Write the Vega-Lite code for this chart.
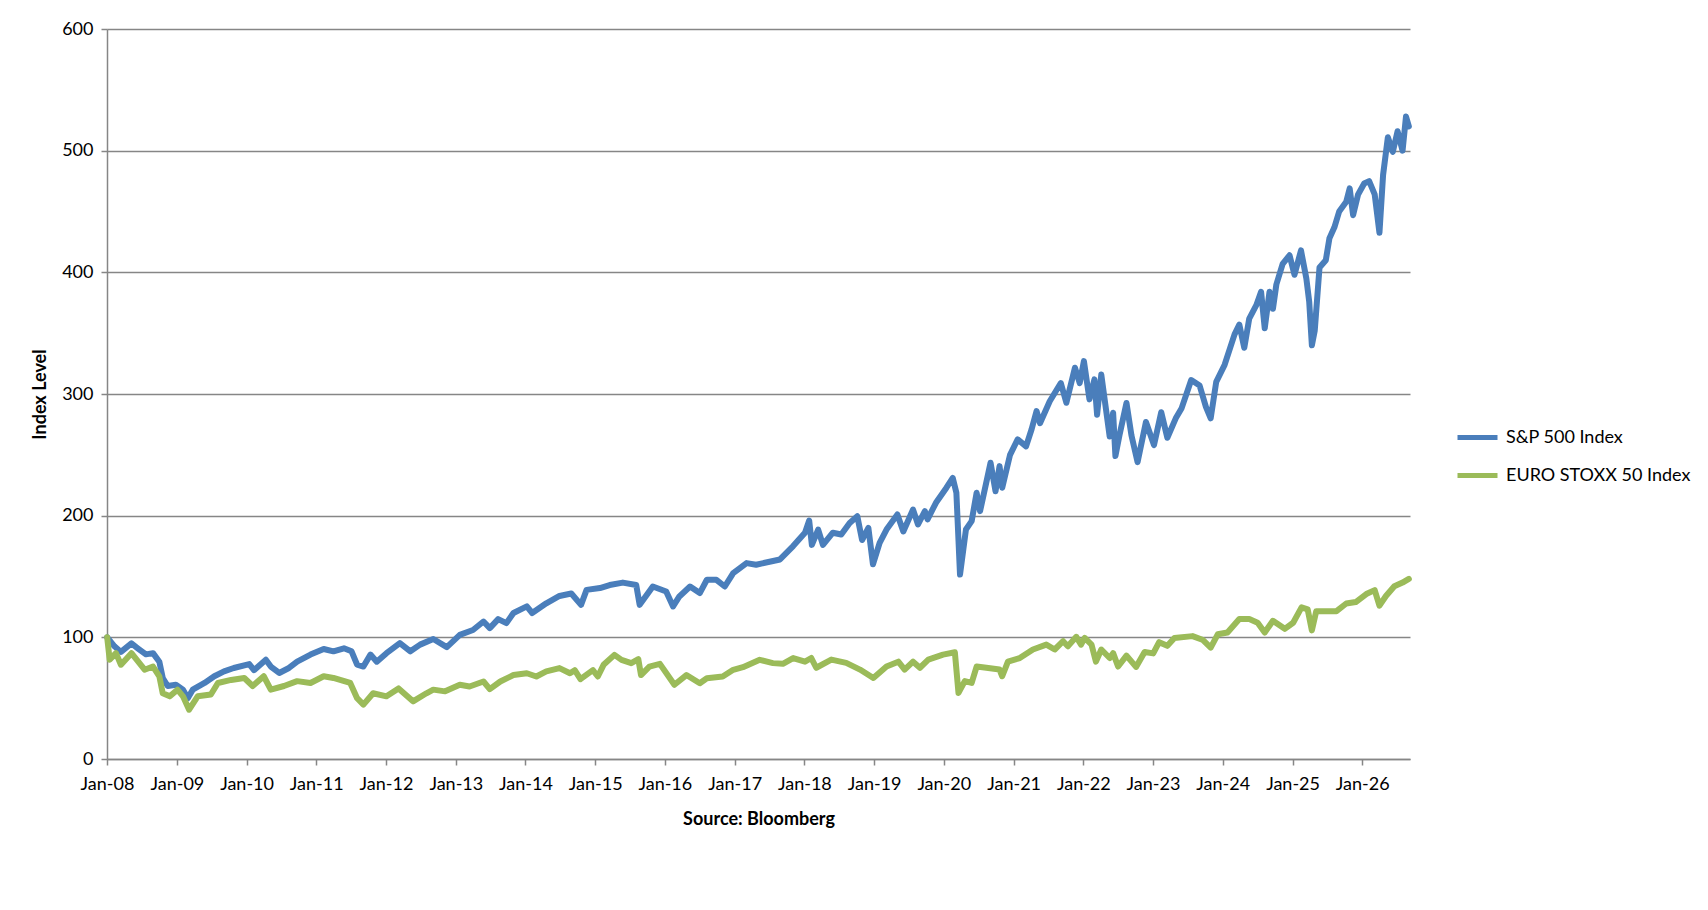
{
  "$schema": "https://vega.github.io/schema/vega-lite/v6.json",
  "description": "S&P 500 vs EURO STOXX 50, rebased to 100 at Jan 2008.",
  "autosize": {"type": "none"},
  "width": 1303,
  "height": 730,
  "padding": {"left": 107, "top": 29, "right": 298, "bottom": 151},
  "background": "white",
  "config": {
    "font": "Lato",
    "view": {"stroke": null},
    "axis": {
      "labelFont": "Lato",
      "labelFontSize": 18,
      "labelColor": "black",
      "titleFont": "Lato",
      "titleFontSize": 18,
      "titleFontWeight": "bold",
      "titleColor": "black",
      "domainColor": "#868686",
      "domainWidth": 1.5,
      "tickColor": "#868686",
      "tickWidth": 1.5,
      "tickSize": 6,
      "gridColor": "#868686",
      "gridWidth": 1.5
    },
    "legend": {
      "labelFont": "Lato",
      "labelFontSize": 18,
      "labelColor": "black",
      "labelLimit": 0
    }
  },
  "data": {
    "values": [
      {"date": "2008-01-02", "index": "S&P 500 Index", "level": 100},
      {"date": "2008-02-09", "index": "S&P 500 Index", "level": 92.6},
      {"date": "2008-03-14", "index": "S&P 500 Index", "level": 88},
      {"date": "2008-05-08", "index": "S&P 500 Index", "level": 95},
      {"date": "2008-06-10", "index": "S&P 500 Index", "level": 91},
      {"date": "2008-07-23", "index": "S&P 500 Index", "level": 86},
      {"date": "2008-08-29", "index": "S&P 500 Index", "level": 87},
      {"date": "2008-10-01", "index": "S&P 500 Index", "level": 80},
      {"date": "2008-10-19", "index": "S&P 500 Index", "level": 66.6},
      {"date": "2008-11-14", "index": "S&P 500 Index", "level": 60},
      {"date": "2008-12-27", "index": "S&P 500 Index", "level": 61},
      {"date": "2009-02-02", "index": "S&P 500 Index", "level": 57},
      {"date": "2009-02-27", "index": "S&P 500 Index", "level": 50},
      {"date": "2009-03-25", "index": "S&P 500 Index", "level": 57},
      {"date": "2009-05-26", "index": "S&P 500 Index", "level": 62.5},
      {"date": "2009-07-16", "index": "S&P 500 Index", "level": 68},
      {"date": "2009-09-05", "index": "S&P 500 Index", "level": 72},
      {"date": "2009-10-26", "index": "S&P 500 Index", "level": 74.8},
      {"date": "2010-01-15", "index": "S&P 500 Index", "level": 78},
      {"date": "2010-02-09", "index": "S&P 500 Index", "level": 73},
      {"date": "2010-04-12", "index": "S&P 500 Index", "level": 81.6},
      {"date": "2010-05-08", "index": "S&P 500 Index", "level": 76},
      {"date": "2010-06-21", "index": "S&P 500 Index", "level": 70.7},
      {"date": "2010-08-11", "index": "S&P 500 Index", "level": 74.8},
      {"date": "2010-09-23", "index": "S&P 500 Index", "level": 80},
      {"date": "2010-12-02", "index": "S&P 500 Index", "level": 85.8},
      {"date": "2011-02-09", "index": "S&P 500 Index", "level": 90.4},
      {"date": "2011-04-01", "index": "S&P 500 Index", "level": 88.5},
      {"date": "2011-05-26", "index": "S&P 500 Index", "level": 91},
      {"date": "2011-07-05", "index": "S&P 500 Index", "level": 88.5},
      {"date": "2011-08-03", "index": "S&P 500 Index", "level": 77.5},
      {"date": "2011-09-05", "index": "S&P 500 Index", "level": 76},
      {"date": "2011-10-12", "index": "S&P 500 Index", "level": 85.8},
      {"date": "2011-11-14", "index": "S&P 500 Index", "level": 80},
      {"date": "2012-01-04", "index": "S&P 500 Index", "level": 87},
      {"date": "2012-03-14", "index": "S&P 500 Index", "level": 95.3},
      {"date": "2012-05-08", "index": "S&P 500 Index", "level": 88.5},
      {"date": "2012-06-28", "index": "S&P 500 Index", "level": 94},
      {"date": "2012-09-05", "index": "S&P 500 Index", "level": 98.6},
      {"date": "2012-11-15", "index": "S&P 500 Index", "level": 92},
      {"date": "2013-01-22", "index": "S&P 500 Index", "level": 102},
      {"date": "2013-04-01", "index": "S&P 500 Index", "level": 106},
      {"date": "2013-05-26", "index": "S&P 500 Index", "level": 113},
      {"date": "2013-06-28", "index": "S&P 500 Index", "level": 107.6},
      {"date": "2013-08-11", "index": "S&P 500 Index", "level": 115},
      {"date": "2013-09-23", "index": "S&P 500 Index", "level": 111.7},
      {"date": "2013-10-30", "index": "S&P 500 Index", "level": 120},
      {"date": "2014-01-08", "index": "S&P 500 Index", "level": 125.4},
      {"date": "2014-02-05", "index": "S&P 500 Index", "level": 120},
      {"date": "2014-04-20", "index": "S&P 500 Index", "level": 128},
      {"date": "2014-06-28", "index": "S&P 500 Index", "level": 134},
      {"date": "2014-08-29", "index": "S&P 500 Index", "level": 136},
      {"date": "2014-10-19", "index": "S&P 500 Index", "level": 126.7},
      {"date": "2014-11-17", "index": "S&P 500 Index", "level": 139},
      {"date": "2015-01-26", "index": "S&P 500 Index", "level": 140.5},
      {"date": "2015-03-18", "index": "S&P 500 Index", "level": 143},
      {"date": "2015-05-26", "index": "S&P 500 Index", "level": 145},
      {"date": "2015-08-04", "index": "S&P 500 Index", "level": 143},
      {"date": "2015-08-22", "index": "S&P 500 Index", "level": 126.7},
      {"date": "2015-10-30", "index": "S&P 500 Index", "level": 141.8},
      {"date": "2016-01-08", "index": "S&P 500 Index", "level": 137.7},
      {"date": "2016-02-13", "index": "S&P 500 Index", "level": 125.4},
      {"date": "2016-03-17", "index": "S&P 500 Index", "level": 133.6},
      {"date": "2016-05-12", "index": "S&P 500 Index", "level": 141.8},
      {"date": "2016-07-02", "index": "S&P 500 Index", "level": 136.4},
      {"date": "2016-08-08", "index": "S&P 500 Index", "level": 147.3},
      {"date": "2016-09-27", "index": "S&P 500 Index", "level": 147.3},
      {"date": "2016-11-10", "index": "S&P 500 Index", "level": 141.8},
      {"date": "2016-12-24", "index": "S&P 500 Index", "level": 152.8},
      {"date": "2017-03-04", "index": "S&P 500 Index", "level": 161},
      {"date": "2017-04-23", "index": "S&P 500 Index", "level": 159.7},
      {"date": "2017-08-26", "index": "S&P 500 Index", "level": 164},
      {"date": "2017-11-03", "index": "S&P 500 Index", "level": 175},
      {"date": "2018-01-04", "index": "S&P 500 Index", "level": 186},
      {"date": "2018-01-26", "index": "S&P 500 Index", "level": 196},
      {"date": "2018-02-09", "index": "S&P 500 Index", "level": 176},
      {"date": "2018-03-14", "index": "S&P 500 Index", "level": 188.6},
      {"date": "2018-04-08", "index": "S&P 500 Index", "level": 176},
      {"date": "2018-05-30", "index": "S&P 500 Index", "level": 186},
      {"date": "2018-07-13", "index": "S&P 500 Index", "level": 184.5},
      {"date": "2018-08-26", "index": "S&P 500 Index", "level": 194},
      {"date": "2018-10-05", "index": "S&P 500 Index", "level": 199.6},
      {"date": "2018-10-30", "index": "S&P 500 Index", "level": 180},
      {"date": "2018-12-02", "index": "S&P 500 Index", "level": 190},
      {"date": "2018-12-26", "index": "S&P 500 Index", "level": 160},
      {"date": "2019-01-30", "index": "S&P 500 Index", "level": 177.7},
      {"date": "2019-03-07", "index": "S&P 500 Index", "level": 188.6},
      {"date": "2019-05-03", "index": "S&P 500 Index", "level": 201},
      {"date": "2019-06-03", "index": "S&P 500 Index", "level": 187},
      {"date": "2019-07-24", "index": "S&P 500 Index", "level": 205},
      {"date": "2019-08-19", "index": "S&P 500 Index", "level": 192.8},
      {"date": "2019-09-24", "index": "S&P 500 Index", "level": 203.7},
      {"date": "2019-10-08", "index": "S&P 500 Index", "level": 197},
      {"date": "2019-11-21", "index": "S&P 500 Index", "level": 210.6},
      {"date": "2020-01-15", "index": "S&P 500 Index", "level": 223},
      {"date": "2020-02-17", "index": "S&P 500 Index", "level": 231},
      {"date": "2020-03-07", "index": "S&P 500 Index", "level": 218.8},
      {"date": "2020-03-26", "index": "S&P 500 Index", "level": 151.6},
      {"date": "2020-04-26", "index": "S&P 500 Index", "level": 188.6},
      {"date": "2020-05-26", "index": "S&P 500 Index", "level": 195.5},
      {"date": "2020-06-21", "index": "S&P 500 Index", "level": 218.8},
      {"date": "2020-07-09", "index": "S&P 500 Index", "level": 203.7},
      {"date": "2020-09-02", "index": "S&P 500 Index", "level": 243.5},
      {"date": "2020-09-28", "index": "S&P 500 Index", "level": 220},
      {"date": "2020-10-19", "index": "S&P 500 Index", "level": 240.7},
      {"date": "2020-11-02", "index": "S&P 500 Index", "level": 223},
      {"date": "2020-12-13", "index": "S&P 500 Index", "level": 250},
      {"date": "2021-01-22", "index": "S&P 500 Index", "level": 262.7},
      {"date": "2021-03-07", "index": "S&P 500 Index", "level": 257},
      {"date": "2021-04-05", "index": "S&P 500 Index", "level": 271},
      {"date": "2021-05-01", "index": "S&P 500 Index", "level": 286},
      {"date": "2021-05-19", "index": "S&P 500 Index", "level": 276},
      {"date": "2021-07-09", "index": "S&P 500 Index", "level": 294},
      {"date": "2021-09-05", "index": "S&P 500 Index", "level": 309},
      {"date": "2021-10-04", "index": "S&P 500 Index", "level": 292.8},
      {"date": "2021-11-18", "index": "S&P 500 Index", "level": 321.6},
      {"date": "2021-12-13", "index": "S&P 500 Index", "level": 309},
      {"date": "2022-01-04", "index": "S&P 500 Index", "level": 327},
      {"date": "2022-02-02", "index": "S&P 500 Index", "level": 295.6},
      {"date": "2022-02-28", "index": "S&P 500 Index", "level": 312},
      {"date": "2022-03-14", "index": "S&P 500 Index", "level": 283},
      {"date": "2022-04-05", "index": "S&P 500 Index", "level": 316},
      {"date": "2022-05-19", "index": "S&P 500 Index", "level": 265},
      {"date": "2022-06-06", "index": "S&P 500 Index", "level": 284.6},
      {"date": "2022-06-18", "index": "S&P 500 Index", "level": 249},
      {"date": "2022-07-09", "index": "S&P 500 Index", "level": 266},
      {"date": "2022-08-15", "index": "S&P 500 Index", "level": 292.6},
      {"date": "2022-09-10", "index": "S&P 500 Index", "level": 266},
      {"date": "2022-10-12", "index": "S&P 500 Index", "level": 244},
      {"date": "2022-11-25", "index": "S&P 500 Index", "level": 277},
      {"date": "2023-01-06", "index": "S&P 500 Index", "level": 258},
      {"date": "2023-02-13", "index": "S&P 500 Index", "level": 285},
      {"date": "2023-03-17", "index": "S&P 500 Index", "level": 264},
      {"date": "2023-04-30", "index": "S&P 500 Index", "level": 280},
      {"date": "2023-05-30", "index": "S&P 500 Index", "level": 288},
      {"date": "2023-07-20", "index": "S&P 500 Index", "level": 311.5},
      {"date": "2023-09-02", "index": "S&P 500 Index", "level": 307},
      {"date": "2023-10-05", "index": "S&P 500 Index", "level": 289.5},
      {"date": "2023-10-30", "index": "S&P 500 Index", "level": 280},
      {"date": "2023-11-28", "index": "S&P 500 Index", "level": 310},
      {"date": "2024-01-11", "index": "S&P 500 Index", "level": 324},
      {"date": "2024-03-03", "index": "S&P 500 Index", "level": 349},
      {"date": "2024-03-28", "index": "S&P 500 Index", "level": 357},
      {"date": "2024-04-23", "index": "S&P 500 Index", "level": 338},
      {"date": "2024-05-19", "index": "S&P 500 Index", "level": 362},
      {"date": "2024-06-25", "index": "S&P 500 Index", "level": 373},
      {"date": "2024-07-20", "index": "S&P 500 Index", "level": 384},
      {"date": "2024-08-08", "index": "S&P 500 Index", "level": 354},
      {"date": "2024-09-02", "index": "S&P 500 Index", "level": 384},
      {"date": "2024-09-20", "index": "S&P 500 Index", "level": 370},
      {"date": "2024-10-08", "index": "S&P 500 Index", "level": 390},
      {"date": "2024-11-10", "index": "S&P 500 Index", "level": 407},
      {"date": "2024-12-16", "index": "S&P 500 Index", "level": 414},
      {"date": "2025-01-11", "index": "S&P 500 Index", "level": 398},
      {"date": "2025-02-14", "index": "S&P 500 Index", "level": 418},
      {"date": "2025-03-14", "index": "S&P 500 Index", "level": 395},
      {"date": "2025-03-29", "index": "S&P 500 Index", "level": 376},
      {"date": "2025-04-12", "index": "S&P 500 Index", "level": 340},
      {"date": "2025-04-27", "index": "S&P 500 Index", "level": 352},
      {"date": "2025-05-22", "index": "S&P 500 Index", "level": 404},
      {"date": "2025-06-24", "index": "S&P 500 Index", "level": 410},
      {"date": "2025-07-13", "index": "S&P 500 Index", "level": 428},
      {"date": "2025-08-08", "index": "S&P 500 Index", "level": 437},
      {"date": "2025-09-02", "index": "S&P 500 Index", "level": 450},
      {"date": "2025-10-09", "index": "S&P 500 Index", "level": 458},
      {"date": "2025-10-27", "index": "S&P 500 Index", "level": 469},
      {"date": "2025-11-14", "index": "S&P 500 Index", "level": 447},
      {"date": "2025-12-10", "index": "S&P 500 Index", "level": 464},
      {"date": "2026-01-11", "index": "S&P 500 Index", "level": 473},
      {"date": "2026-02-06", "index": "S&P 500 Index", "level": 475},
      {"date": "2026-03-07", "index": "S&P 500 Index", "level": 464},
      {"date": "2026-04-01", "index": "S&P 500 Index", "level": 432.5},
      {"date": "2026-04-20", "index": "S&P 500 Index", "level": 480},
      {"date": "2026-05-15", "index": "S&P 500 Index", "level": 511},
      {"date": "2026-06-10", "index": "S&P 500 Index", "level": 499},
      {"date": "2026-07-05", "index": "S&P 500 Index", "level": 516},
      {"date": "2026-07-31", "index": "S&P 500 Index", "level": 500},
      {"date": "2026-08-18", "index": "S&P 500 Index", "level": 528},
      {"date": "2026-09-02", "index": "S&P 500 Index", "level": 520},

      {"date": "2008-01-02", "index": "EURO STOXX 50 Index", "level": 100},
      {"date": "2008-01-15", "index": "EURO STOXX 50 Index", "level": 81.6},
      {"date": "2008-02-17", "index": "EURO STOXX 50 Index", "level": 87},
      {"date": "2008-03-14", "index": "EURO STOXX 50 Index", "level": 77.5},
      {"date": "2008-05-08", "index": "EURO STOXX 50 Index", "level": 87},
      {"date": "2008-07-16", "index": "EURO STOXX 50 Index", "level": 73.4},
      {"date": "2008-08-29", "index": "EURO STOXX 50 Index", "level": 76},
      {"date": "2008-10-01", "index": "EURO STOXX 50 Index", "level": 68},
      {"date": "2008-10-19", "index": "EURO STOXX 50 Index", "level": 54},
      {"date": "2008-11-25", "index": "EURO STOXX 50 Index", "level": 51.5},
      {"date": "2009-01-04", "index": "EURO STOXX 50 Index", "level": 57},
      {"date": "2009-02-02", "index": "EURO STOXX 50 Index", "level": 51.5},
      {"date": "2009-03-06", "index": "EURO STOXX 50 Index", "level": 40.5},
      {"date": "2009-04-20", "index": "EURO STOXX 50 Index", "level": 51.5},
      {"date": "2009-06-28", "index": "EURO STOXX 50 Index", "level": 53},
      {"date": "2009-08-04", "index": "EURO STOXX 50 Index", "level": 62.5},
      {"date": "2009-10-12", "index": "EURO STOXX 50 Index", "level": 65},
      {"date": "2009-12-20", "index": "EURO STOXX 50 Index", "level": 66.6},
      {"date": "2010-02-02", "index": "EURO STOXX 50 Index", "level": 60},
      {"date": "2010-04-01", "index": "EURO STOXX 50 Index", "level": 68},
      {"date": "2010-05-08", "index": "EURO STOXX 50 Index", "level": 57},
      {"date": "2010-07-16", "index": "EURO STOXX 50 Index", "level": 60},
      {"date": "2010-09-23", "index": "EURO STOXX 50 Index", "level": 64},
      {"date": "2010-12-02", "index": "EURO STOXX 50 Index", "level": 62.5},
      {"date": "2011-02-09", "index": "EURO STOXX 50 Index", "level": 68},
      {"date": "2011-04-01", "index": "EURO STOXX 50 Index", "level": 66.6},
      {"date": "2011-06-28", "index": "EURO STOXX 50 Index", "level": 62.5},
      {"date": "2011-08-03", "index": "EURO STOXX 50 Index", "level": 50},
      {"date": "2011-09-05", "index": "EURO STOXX 50 Index", "level": 44.7},
      {"date": "2011-10-26", "index": "EURO STOXX 50 Index", "level": 54},
      {"date": "2012-01-04", "index": "EURO STOXX 50 Index", "level": 51.5},
      {"date": "2012-03-07", "index": "EURO STOXX 50 Index", "level": 58},
      {"date": "2012-05-22", "index": "EURO STOXX 50 Index", "level": 47.4},
      {"date": "2012-07-31", "index": "EURO STOXX 50 Index", "level": 54},
      {"date": "2012-09-05", "index": "EURO STOXX 50 Index", "level": 57},
      {"date": "2012-11-06", "index": "EURO STOXX 50 Index", "level": 55.6},
      {"date": "2013-01-22", "index": "EURO STOXX 50 Index", "level": 61},
      {"date": "2013-03-14", "index": "EURO STOXX 50 Index", "level": 59.6},
      {"date": "2013-05-26", "index": "EURO STOXX 50 Index", "level": 63.7},
      {"date": "2013-06-28", "index": "EURO STOXX 50 Index", "level": 57.4},
      {"date": "2013-08-22", "index": "EURO STOXX 50 Index", "level": 63.7},
      {"date": "2013-10-30", "index": "EURO STOXX 50 Index", "level": 69},
      {"date": "2014-01-08", "index": "EURO STOXX 50 Index", "level": 70.5},
      {"date": "2014-02-27", "index": "EURO STOXX 50 Index", "level": 67.8},
      {"date": "2014-04-20", "index": "EURO STOXX 50 Index", "level": 72},
      {"date": "2014-06-28", "index": "EURO STOXX 50 Index", "level": 74.7},
      {"date": "2014-08-22", "index": "EURO STOXX 50 Index", "level": 70.5},
      {"date": "2014-09-16", "index": "EURO STOXX 50 Index", "level": 73},
      {"date": "2014-10-16", "index": "EURO STOXX 50 Index", "level": 65.6},
      {"date": "2014-12-20", "index": "EURO STOXX 50 Index", "level": 73},
      {"date": "2015-01-15", "index": "EURO STOXX 50 Index", "level": 67.8},
      {"date": "2015-02-14", "index": "EURO STOXX 50 Index", "level": 77.4},
      {"date": "2015-04-12", "index": "EURO STOXX 50 Index", "level": 85.6},
      {"date": "2015-05-19", "index": "EURO STOXX 50 Index", "level": 81.5},
      {"date": "2015-07-09", "index": "EURO STOXX 50 Index", "level": 78.8},
      {"date": "2015-08-15", "index": "EURO STOXX 50 Index", "level": 82},
      {"date": "2015-08-29", "index": "EURO STOXX 50 Index", "level": 69},
      {"date": "2015-10-12", "index": "EURO STOXX 50 Index", "level": 76},
      {"date": "2015-12-06", "index": "EURO STOXX 50 Index", "level": 78.2},
      {"date": "2016-02-20", "index": "EURO STOXX 50 Index", "level": 61},
      {"date": "2016-04-23", "index": "EURO STOXX 50 Index", "level": 69},
      {"date": "2016-07-02", "index": "EURO STOXX 50 Index", "level": 62.3},
      {"date": "2016-08-08", "index": "EURO STOXX 50 Index", "level": 66.4},
      {"date": "2016-10-30", "index": "EURO STOXX 50 Index", "level": 67.8},
      {"date": "2016-12-24", "index": "EURO STOXX 50 Index", "level": 73.3},
      {"date": "2017-02-13", "index": "EURO STOXX 50 Index", "level": 75.5},
      {"date": "2017-05-12", "index": "EURO STOXX 50 Index", "level": 81.5},
      {"date": "2017-07-20", "index": "EURO STOXX 50 Index", "level": 78.8},
      {"date": "2017-09-10", "index": "EURO STOXX 50 Index", "level": 78.2},
      {"date": "2017-11-03", "index": "EURO STOXX 50 Index", "level": 83},
      {"date": "2018-01-04", "index": "EURO STOXX 50 Index", "level": 80},
      {"date": "2018-02-06", "index": "EURO STOXX 50 Index", "level": 83},
      {"date": "2018-03-04", "index": "EURO STOXX 50 Index", "level": 75},
      {"date": "2018-05-22", "index": "EURO STOXX 50 Index", "level": 81.7},
      {"date": "2018-08-08", "index": "EURO STOXX 50 Index", "level": 79},
      {"date": "2018-10-19", "index": "EURO STOXX 50 Index", "level": 73.5},
      {"date": "2018-12-28", "index": "EURO STOXX 50 Index", "level": 66.6},
      {"date": "2019-03-07", "index": "EURO STOXX 50 Index", "level": 76},
      {"date": "2019-05-08", "index": "EURO STOXX 50 Index", "level": 80},
      {"date": "2019-06-10", "index": "EURO STOXX 50 Index", "level": 73.5},
      {"date": "2019-07-24", "index": "EURO STOXX 50 Index", "level": 80},
      {"date": "2019-08-29", "index": "EURO STOXX 50 Index", "level": 75},
      {"date": "2019-10-12", "index": "EURO STOXX 50 Index", "level": 81.7},
      {"date": "2019-12-28", "index": "EURO STOXX 50 Index", "level": 85.8},
      {"date": "2020-02-28", "index": "EURO STOXX 50 Index", "level": 87.7},
      {"date": "2020-03-18", "index": "EURO STOXX 50 Index", "level": 54.3},
      {"date": "2020-04-20", "index": "EURO STOXX 50 Index", "level": 64},
      {"date": "2020-05-26", "index": "EURO STOXX 50 Index", "level": 62.5},
      {"date": "2020-06-21", "index": "EURO STOXX 50 Index", "level": 76},
      {"date": "2020-08-11", "index": "EURO STOXX 50 Index", "level": 75},
      {"date": "2020-10-19", "index": "EURO STOXX 50 Index", "level": 73.5},
      {"date": "2020-11-02", "index": "EURO STOXX 50 Index", "level": 68},
      {"date": "2020-12-02", "index": "EURO STOXX 50 Index", "level": 80},
      {"date": "2021-02-02", "index": "EURO STOXX 50 Index", "level": 83},
      {"date": "2021-04-12", "index": "EURO STOXX 50 Index", "level": 90},
      {"date": "2021-06-21", "index": "EURO STOXX 50 Index", "level": 94},
      {"date": "2021-08-04", "index": "EURO STOXX 50 Index", "level": 90},
      {"date": "2021-09-17", "index": "EURO STOXX 50 Index", "level": 96.8},
      {"date": "2021-10-12", "index": "EURO STOXX 50 Index", "level": 92.7},
      {"date": "2021-11-25", "index": "EURO STOXX 50 Index", "level": 100.4},
      {"date": "2021-12-20", "index": "EURO STOXX 50 Index", "level": 94},
      {"date": "2022-01-08", "index": "EURO STOXX 50 Index", "level": 99.5},
      {"date": "2022-02-13", "index": "EURO STOXX 50 Index", "level": 94},
      {"date": "2022-03-08", "index": "EURO STOXX 50 Index", "level": 80},
      {"date": "2022-04-05", "index": "EURO STOXX 50 Index", "level": 90},
      {"date": "2022-05-19", "index": "EURO STOXX 50 Index", "level": 83},
      {"date": "2022-06-06", "index": "EURO STOXX 50 Index", "level": 87},
      {"date": "2022-07-02", "index": "EURO STOXX 50 Index", "level": 76},
      {"date": "2022-08-15", "index": "EURO STOXX 50 Index", "level": 85},
      {"date": "2022-10-04", "index": "EURO STOXX 50 Index", "level": 75.7},
      {"date": "2022-11-18", "index": "EURO STOXX 50 Index", "level": 88},
      {"date": "2023-01-02", "index": "EURO STOXX 50 Index", "level": 86.8},
      {"date": "2023-02-02", "index": "EURO STOXX 50 Index", "level": 96},
      {"date": "2023-03-17", "index": "EURO STOXX 50 Index", "level": 93},
      {"date": "2023-04-23", "index": "EURO STOXX 50 Index", "level": 99.4},
      {"date": "2023-07-27", "index": "EURO STOXX 50 Index", "level": 101},
      {"date": "2023-09-20", "index": "EURO STOXX 50 Index", "level": 97.8},
      {"date": "2023-10-30", "index": "EURO STOXX 50 Index", "level": 91.5},
      {"date": "2023-12-06", "index": "EURO STOXX 50 Index", "level": 102.5},
      {"date": "2024-01-26", "index": "EURO STOXX 50 Index", "level": 104},
      {"date": "2024-03-28", "index": "EURO STOXX 50 Index", "level": 115},
      {"date": "2024-05-19", "index": "EURO STOXX 50 Index", "level": 115},
      {"date": "2024-07-02", "index": "EURO STOXX 50 Index", "level": 112},
      {"date": "2024-08-08", "index": "EURO STOXX 50 Index", "level": 104},
      {"date": "2024-09-20", "index": "EURO STOXX 50 Index", "level": 113.6},
      {"date": "2024-11-21", "index": "EURO STOXX 50 Index", "level": 107},
      {"date": "2025-01-04", "index": "EURO STOXX 50 Index", "level": 112},
      {"date": "2025-02-17", "index": "EURO STOXX 50 Index", "level": 124.6},
      {"date": "2025-03-21", "index": "EURO STOXX 50 Index", "level": 123},
      {"date": "2025-04-12", "index": "EURO STOXX 50 Index", "level": 105.7},
      {"date": "2025-05-05", "index": "EURO STOXX 50 Index", "level": 121.5},
      {"date": "2025-06-24", "index": "EURO STOXX 50 Index", "level": 121.5},
      {"date": "2025-08-19", "index": "EURO STOXX 50 Index", "level": 121.5},
      {"date": "2025-10-09", "index": "EURO STOXX 50 Index", "level": 127.8},
      {"date": "2025-11-28", "index": "EURO STOXX 50 Index", "level": 129},
      {"date": "2026-01-22", "index": "EURO STOXX 50 Index", "level": 135.6},
      {"date": "2026-03-07", "index": "EURO STOXX 50 Index", "level": 138.8},
      {"date": "2026-04-01", "index": "EURO STOXX 50 Index", "level": 126},
      {"date": "2026-05-05", "index": "EURO STOXX 50 Index", "level": 134},
      {"date": "2026-06-18", "index": "EURO STOXX 50 Index", "level": 142},
      {"date": "2026-07-31", "index": "EURO STOXX 50 Index", "level": 145},
      {"date": "2026-09-02", "index": "EURO STOXX 50 Index", "level": 148}
    ]
  },
  "mark": {"type": "line", "strokeWidth": 6, "strokeCap": "round", "strokeJoin": "round"},
  "encoding": {
    "x": {
      "field": "date",
      "type": "temporal",
      "scale": {"domain": ["2008-01-01", "2026-09-08"]},
      "axis": {
        "title": "Source: Bloomberg",
        "format": "%b-%y",
        "tickCount": {"interval": "year", "step": 1},
        "grid": false,
        "labelPadding": 10,
        "titlePadding": 17,
        "labelFlush": false
      }
    },
    "y": {
      "field": "level",
      "type": "quantitative",
      "scale": {"domain": [0, 600], "nice": false},
      "axis": {
        "title": "Index Level",
        "values": [0, 100, 200, 300, 400, 500, 600],
        "labelPadding": 8,
        "titlePadding": 12
      }
    },
    "color": {
      "field": "index",
      "type": "nominal",
      "sort": ["S&P 500 Index", "EURO STOXX 50 Index"],
      "scale": {
        "domain": ["S&P 500 Index", "EURO STOXX 50 Index"],
        "range": ["#4a7ebb", "#9bbb59"]
      },
      "legend": {
        "title": null,
        "orient": "none",
        "legendX": 1348,
        "legendY": 386,
        "symbolType": "stroke",
        "symbolSize": 1600,
        "symbolStrokeWidth": 5,
        "labelOffset": 6,
        "rowPadding": 5
      }
    }
  }
}
